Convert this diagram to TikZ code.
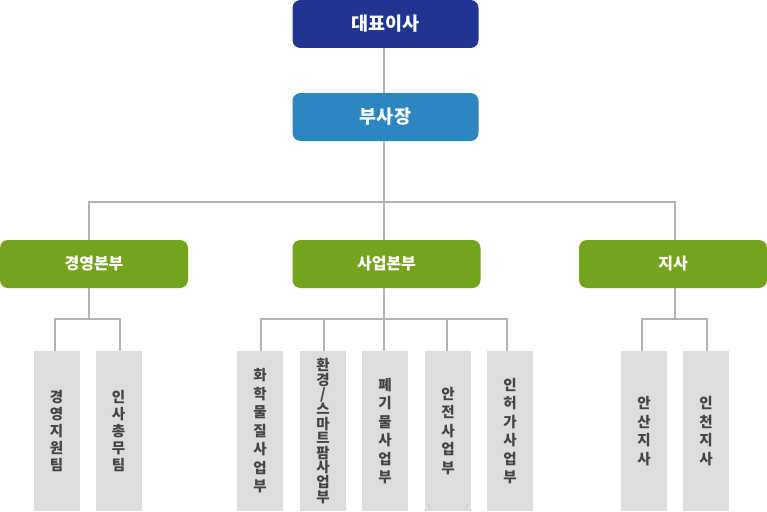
\documentclass[tikz,border=0pt]{standalone}
\usepackage{fontspec}
\newfontfamily\kr{Noto Sans CJK KR}
\definecolor{navy}{HTML}{1F3591}
\definecolor{sky}{HTML}{2D86BF}
\definecolor{leaf}{HTML}{76A31C}
\definecolor{colgrey}{HTML}{DDDDDD}
\definecolor{wire}{HTML}{B3B3B3}
\definecolor{ink}{HTML}{444444}
\tikzset{
  topbox/.style={rectangle, rounded corners=8pt, minimum width=186pt, minimum height=48pt, inner sep=0pt, text=white, font=\kr\bfseries\fontsize{18.5}{20}\selectfont},
  divbox/.style={rectangle, rounded corners=8pt, fill=leaf, minimum width=188pt, minimum height=48pt, inner sep=0pt, text=white, font=\kr\bfseries\fontsize{16}{18}\selectfont},
  colbox/.style={rectangle, fill=colgrey, minimum width=46pt, minimum height=160pt, inner sep=0pt, text=ink, align=center},
  wireline/.style={draw=wire, line width=2pt},
}
\begin{document}
\begin{tikzpicture}[x=1pt,y=-1pt]
\useasboundingbox (0,0) rectangle (767,511);
% top
\node[topbox, fill=navy] (ceo) at (385.5,24) {대표이사};
\node[topbox, fill=sky] (vp) at (385.5,117) {부사장};
% divisions
\node[divbox] (d1) at (94,264) {경영본부};
\node[divbox] (d2) at (386.5,264) {사업본부};
\node[divbox] (d3) at (673,264) {지사};
% columns
\newcommand{\fA}{\kr\bfseries\fontsize{14.5}{16.8}\selectfont}
\newcommand{\fB}{\kr\bfseries\fontsize{14.5}{18.5}\selectfont}
\newcommand{\fC}{\kr\bfseries\fontsize{14.5}{14.6}\selectfont}
\node[colbox, font=\fA] (c11) at (56.5,431) {경\\영\\지\\원\\팀};
\node[colbox, font=\fA] (c12) at (118.5,431) {인\\사\\총\\무\\팀};
\node[colbox, font=\fB] (c21) at (260,431) {화\\학\\물\\질\\사\\업\\부};
\node[colbox, font=\fC] (c22) at (323,431) {환\\경\\/\\스\\마\\트\\팜\\사\\업\\부};
\node[colbox, font=\fB] (c23) at (385,431) {폐\\기\\물\\사\\업\\부};
\node[colbox, font=\fB] (c24) at (448,431) {안\\전\\사\\업\\부};
\node[colbox, font=\fB] (c25) at (510,431) {인\\허\\가\\사\\업\\부};
\node[colbox, font=\fB] (c31) at (644,431) {안\\산\\지\\사};
\node[colbox, font=\fB] (c32) at (706,431) {인\\천\\지\\사};
% wires
\begin{scope}[wireline]
\draw ([xshift=-1.5pt]ceo.south) -- ([xshift=-1.5pt]vp.north);
\draw ([xshift=-1.5pt]vp.south) -- ([xshift=-2.5pt]d2.north);
\draw ([xshift=-5pt]d1.north) -- ++(0,-38) -| ([xshift=2pt]d3.north);
\draw ([xshift=-5pt]d1.south) -- ++(0,31);
\draw ([xshift=-2.5pt]d2.south) -- ++(0,31);
\draw ([xshift=2pt]d3.south) -- ++(0,31);
\draw ([xshift=-1.5pt]c11.north) -- ++(0,-32) -| ([xshift=1.5pt]c12.north);
\draw ([xshift=1pt]c21.north) -- ++(0,-32) -| ([xshift=-3pt]c25.north);
\draw ([xshift=1pt]c22.north) -- ++(0,-32);
\draw ([xshift=-1pt]c23.north) -- ++(0,-32);
\draw ([xshift=-1pt]c24.north) -- ++(0,-32);
\draw ([xshift=-2pt]c31.north) -- ++(0,-32) -| ([xshift=1pt]c32.north);
\end{scope}
\end{tikzpicture}
\end{document}
